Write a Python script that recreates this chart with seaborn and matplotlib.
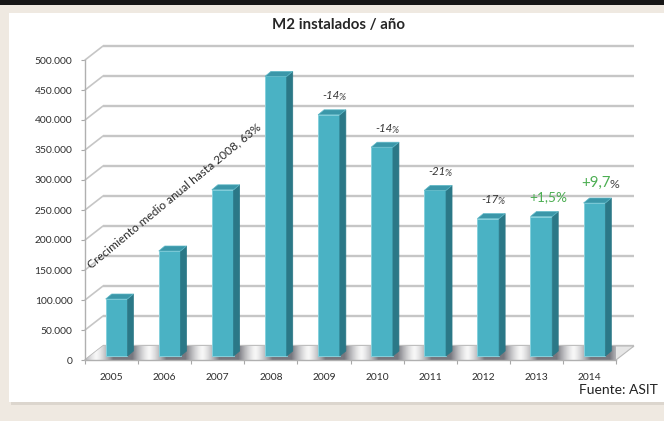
import numpy as np
import pandas as pd
import matplotlib
matplotlib.use("Agg")
import matplotlib.pyplot as plt
from matplotlib.patches import Polygon, Rectangle
from matplotlib.colors import LinearSegmentedColormap
import seaborn as sns

# ---- data -------------------------------------------------------------
years = ["2005", "2006", "2007", "2008", "2009", "2010", "2011", "2012", "2013", "2014"]
m2_installed = [95000, 175000, 277000, 466000, 402000, 348000, 276000, 229000, 232500, 255000]
change_labels = ["", "", "", "", "-14", "-14", "-21", "-17", "+1,5", "+9,7"]
change_colors = ["#333333"] * 8 + ["#4cae52", "#4cae52"]
change_sizes = [8.3, 8.3, 8.3, 8.3, 8.3, 8.3, 8.3, 8.3, 9.8, 10.8]
y_ticks = [0, 50000, 100000, 150000, 200000, 250000, 300000, 350000, 400000, 450000, 500000]
y_tick_labels = ["0", "50.000", "100.000", "150.000", "200.000", "250.000",
                 "300.000", "350.000", "400.000", "450.000", "500.000"]
title = "M2 instalados / año"
trend_note = "Crecimiento medio anual hasta 2008, 63%"
source = "Fuente: ASIT"

df = pd.DataFrame({"year": years, "m2": m2_installed})

# ---- style --------------------------------------------------------------
sns.set_theme(style="white")
plt.rcParams["font.family"] = ["Lato", "DejaVu Sans"]

W, H = 664, 421
fig = plt.figure(figsize=(W / 100, H / 100), dpi=100)
fig.patch.set_facecolor("#efe9e1")

# page frame: white panel with a soft shadow and a dark band on top
fig.patches.append(Rectangle((11 / W, 1 - 405 / H), (W - 11) / W, 392 / H,
                             transform=fig.transFigure, facecolor="#dcd6ce",
                             edgecolor="none", zorder=-10))
fig.patches.append(Rectangle((9 / W, 1 - 402 / H), (W - 9) / W, 389 / H,
                             transform=fig.transFigure, facecolor="white",
                             edgecolor="none", zorder=-9))
fig.patches.append(Rectangle((0, 1 - 5 / H), 1, 5 / H, transform=fig.transFigure,
                             facecolor="#161616", edgecolor="none", zorder=-9))

# front plane of the 3-D box
ax_left, ax_bottom, ax_w, ax_h = 85, 61, 531, 300
ax = fig.add_axes([ax_left / W, ax_bottom / H, ax_w / W, ax_h / H])
ax.set_facecolor("none")
ax.set_zorder(1)

n = len(years)
ymax = 500000
px_x = ax_w / n          # pixels per category
px_y = ax_h / ymax       # pixels per m2


def dx(px):
    return px / px_x


def dy(px):
    return px / px_y


wall = (dx(18), dy(14))      # back wall offset
front = (dx(5), dy(4))       # column front faces
depth = (dx(6), dy(5))       # column depth

# back-wall gridlines and the left-wall diagonals
for v in y_ticks:
    ax.plot([-0.5 + wall[0], n - 0.5 + wall[0]], [v + wall[1]] * 2,
            color="#c6c6c6", lw=1.7, zorder=1, clip_on=False, solid_capstyle="butt")
    ax.plot([-0.5, -0.5 + wall[0]], [v, v + wall[1]],
            color="#c6c6c6", lw=1.2, zorder=1, clip_on=False)

# floor with the shading cast by the columns
floor = Polygon([(-0.5, 0), (n - 0.5, 0), (n - 0.5 + wall[0], wall[1]),
                 (-0.5 + wall[0], wall[1])], closed=True, facecolor="#e6e6e6",
                edgecolor="#b9b9b9", lw=0.8, zorder=2, clip_on=False)
ax.add_patch(floor)
xs = np.linspace(-0.5, n - 0.5 + wall[0], 900)
rel = (xs - front[0] - depth[0]) - np.round(xs - front[0] - depth[0])
shade = np.clip((0.5 - np.abs(rel)) / 0.32, 0, 1) ** 1.4
floor_cmap = LinearSegmentedColormap.from_list("floor", ["#f7f7f7", "#77777e"])
img = ax.imshow(np.tile(shade, (6, 1)), cmap=floor_cmap, vmin=0, vmax=1,
                extent=[-0.5, n - 0.5 + wall[0], 0, wall[1]], aspect="auto",
                origin="lower", zorder=2.1, interpolation="bilinear")
img.set_clip_path(floor)

# columns
face_col, side_col, top_col = "#4ab2c4", "#2b7887", "#3b97a9"
sns.barplot(data=df, x="year", y="m2", color=face_col, saturation=1, width=0.41,
            edgecolor="#86d0dc", linewidth=0.7, ax=ax, zorder=5)
for p in list(ax.patches):
    if p is floor or p.get_height() <= 0:
        continue
    p.set_x(p.get_x() + front[0])
    p.set_y(front[1])
    x0, x1 = p.get_x(), p.get_x() + p.get_width()
    yb, yt = p.get_y(), p.get_y() + p.get_height()
    ax.add_patch(Polygon([(x1, yb), (x1, yt), (x1 + depth[0], yt + depth[1]),
                          (x1 + depth[0], yb + depth[1])], closed=True,
                         facecolor=side_col, edgecolor="#2b7887", lw=0.5, zorder=5))
    ax.add_patch(Polygon([(x0, yt), (x1, yt), (x1 + depth[0], yt + depth[1]),
                          (x0 + depth[0], yt + depth[1])], closed=True,
                         facecolor=top_col, edgecolor="#5fb9c8", lw=0.5, zorder=5))

# year-on-year change labels
for i, (lab, col, fs) in enumerate(zip(change_labels, change_colors, change_sizes)):
    if not lab:
        continue
    top = m2_installed[i] + front[1] + depth[1]
    italic = "italic" if fs < 9 else "normal"
    t = ax.annotate(lab, xy=(i + front[0] + 0.03, top), xytext=(0, 6),
                    textcoords="offset points", ha="center", va="bottom",
                    fontsize=fs, color=col, style=italic,
                    zorder=6, annotation_clip=False)
    ax.annotate("%", xy=(1, 0), xycoords=t, xytext=(-0.6, -0.5),
                textcoords="offset points", ha="left", va="bottom",
                fontsize=fs * (0.82 if lab != "+1,5" else 1.0),
                color=col if lab == "+1,5" else "#444444",
                style=italic, zorder=6)

# diagonal note on the growth phase
ax.text(-0.38, 152000, trend_note, rotation=39.5, rotation_mode="anchor",
        ha="left", va="baseline", fontsize=8.6, color="#2a2a2a", zorder=6)

# axes
ax.set_xlim(-0.5, n - 0.5)
ax.set_ylim(0, ymax)
ax.set_yticks(y_ticks)
ax.set_yticklabels(y_tick_labels, fontsize=7.4, color="#2e2e2e")
ax.set_xticks(range(n))
ax.set_xticklabels(years, fontsize=7.4, color="#2e2e2e")
ax.set_xticks(np.arange(-0.5, n, 1), minor=True)
ax.tick_params(axis="y", left=True, length=3, width=0.8, color="#a8a8a8", pad=6)
ax.tick_params(axis="x", which="major", bottom=False, length=0, pad=9)
ax.tick_params(axis="x", which="minor", bottom=True, length=3, width=0.8, color="#a8a8a8")
ax.set_xlabel("")
ax.set_ylabel("")
for side in ("top", "right"):
    ax.spines[side].set_visible(False)
ax.spines["left"].set_color("#b0b0b0")
ax.spines["bottom"].set_color("#b0b0b0")
ax.spines["left"].set_linewidth(1.0)
ax.spines["bottom"].set_linewidth(1.0)

fig.text(339 / W, 1 - 25 / H, title, ha="center", va="center", fontsize=10.8,
         fontweight="bold", color="#262626")
fig.text(658 / W, 1 - 390 / H, source, ha="right", va="center", fontsize=10,
         color="#222222")

fig.savefig("out.png", dpi=100, facecolor=fig.get_facecolor())
